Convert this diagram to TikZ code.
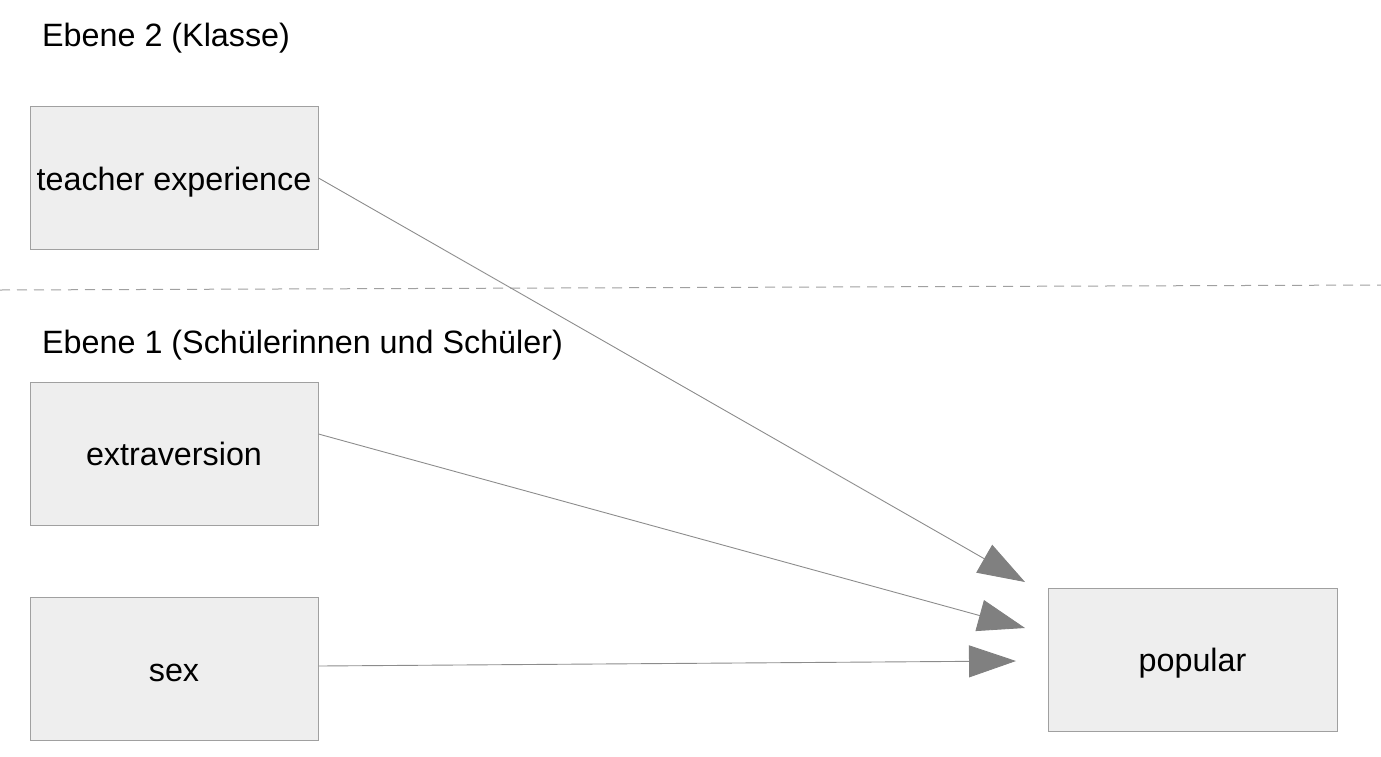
\documentclass[tikz,border=0pt]{standalone}
\usepackage{fontspec}
\setmainfont{Liberation Sans}
\usetikzlibrary{arrows.meta}
\definecolor{boxfill}{HTML}{EEEEEE}
\definecolor{boxline}{HTML}{A0A0A0}
\definecolor{linegray}{HTML}{8C8C8C}
\definecolor{tipgray}{HTML}{808080}
\tikzset{
  varbox/.style={draw=boxline, fill=boxfill, line width=1pt, minimum width=288pt, minimum height=143pt, inner sep=0pt, text height=24pt, text depth=0pt, font=\fontsize{32.3}{38}\selectfont},
  levellabel/.style={anchor=west, inner sep=0pt, font=\fontsize{32.3}{38}\selectfont},
  path/.style={draw=linegray, line width=0.9pt, -{Triangle[length=47pt,width=32pt,color=tipgray]}}
}
\begin{document}
\begin{tikzpicture}[x=1pt,y=-1pt]
\useasboundingbox (0,0) rectangle (1381,756);
\node[levellabel] (l2) at (42,38) {Ebene 2 (Klasse)};
\node[levellabel] (l1) at (42,345) {Ebene 1 (Schülerinnen und Schüler)};
\draw[boxline, line width=1pt, dash pattern=on 10pt off 7pt] (0,290) -- (1381,285);
\node[varbox] (te) at (174,178) {teacher experience};
\node[varbox] (ext) at (174,453.5) {extraversion};
\node[varbox] (sex) at (174,669) {sex};
\node[varbox, minimum width=289pt] (pop) at (1192.5,659.5) {popular};
\coordinate (t1) at (1025,582);
\coordinate (t2) at (1025,628);
\coordinate (t3) at (1016,661);
\draw[path] (te.east) -- (t1);
\draw[path] ([yshift=19.5pt]ext.east) -- (t2);
\draw[path] ([yshift=3pt]sex.east) -- (t3);
\end{tikzpicture}
\end{document}
